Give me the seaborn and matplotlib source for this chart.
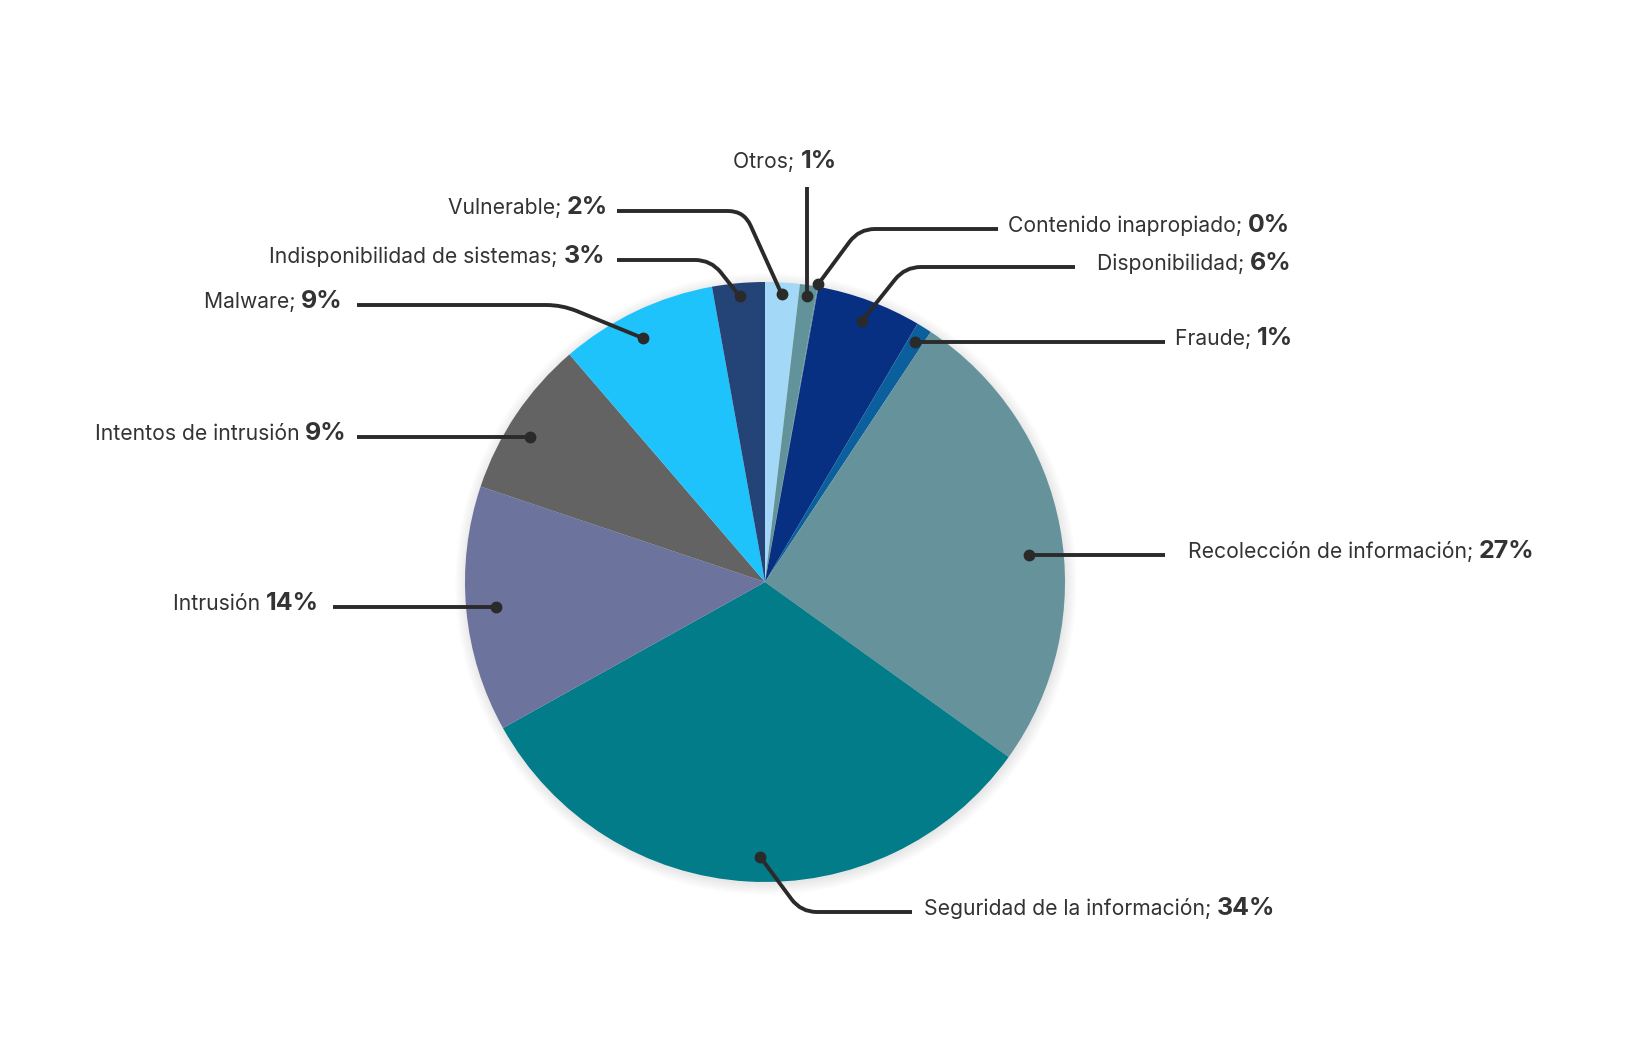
import numpy as np
import matplotlib
matplotlib.use('Agg')
import matplotlib.pyplot as plt
import seaborn as sns
from matplotlib.path import Path
from matplotlib.patches import PathPatch, Circle

# slices, clockwise from 12 o'clock
categories = ['Vulnerable', 'Otros', 'Contenido inapropiado', 'Disponibilidad', 'Fraude',
              'Recolección de información', 'Seguridad de la información', 'Intrusión',
              'Intentos de intrusión', 'Malware', 'Indisponibilidad de sistemas']
shares = [1.86, 0.94, 0.05, 5.64, 0.83, 25.6, 32.0, 13.25, 8.55, 8.47, 2.83]
pct_labels = ['2%', '1%', '0%', '6%', '1%', '27%', '34%', '14%', '9%', '9%', '3%']
separators = ['; ', '; ', '; ', '; ', '; ', '; ', '; ', ' ', ' ', '; ', '; ']
colors = ['#a3d9f6', '#62939b', '#5f8f97', '#072f82', '#0c5f9d', '#66929b',
          '#027c88', '#6c739d', '#636363', '#1fc3fc', '#244376']

W, H = 1633, 1039
CX, CY, R = 765, 582, 300          # pie centre / radius in image pixels

sns.set_theme(style='white')
plt.rcParams['font.family'] = ['Inter', 'DejaVu Sans']

fig = plt.figure(figsize=(W / 100, H / 100), dpi=100)
ax = fig.add_axes([0, 0, 1, 1])


def Y(y):
    # image row -> data y
    return H - y


# soft glow under the pie
for k in range(12):
    ax.add_patch(Circle((CX + 1, Y(CY) - 2), R + k, color='black', alpha=0.009, lw=0, zorder=0))

wedges, _ = ax.pie(shares, colors=colors, startangle=90, counterclock=False,
                   center=(CX, Y(CY)), radius=R, wedgeprops=dict(linewidth=0, zorder=1))

# leader layout: position inside wedge (frac of angle), radial fraction, path corners, text anchor
layout = {
    'Vulnerable': dict(f=0.5, r=0.96, pts=[(744, 211), (617, 211)], tx=608, ha='right'),
    'Otros': dict(f=0.5, r=0.965, pts=[(None, 187)], tx=785, ty=168, ha='center'),
    'Contenido inapropiado': dict(f=0.5, r=1.01, pts=[(859, 229), (998, 229)], tx=1008, ha='left'),
    'Disponibilidad': dict(f=0.5, r=0.93, pts=[(905, 267), (1075, 267)], tx=1097, ha='left'),
    'Fraude': dict(f=0.5, r=0.945, pts=[(1165, None)], tx=1175, ha='left'),
    'Recolección de información': dict(f=0.55, r=0.885, pts=[(1165, None)], tx=1188, ha='left'),
    'Seguridad de la información': dict(f=0.48, r=0.917, pts=[(801, 912), (912, 912)], tx=924, ha='left'),
    'Intrusión': dict(f=0.5, r=0.9, pts=[(333, None)], tx=319, ha='right'),
    'Intentos de intrusión': dict(f=0.43, r=0.92, pts=[(357, None)], tx=347, ha='right'),
    'Malware': dict(f=0.46, r=0.91, pts=[(562, 305), (357, 305)], tx=343, ha='right'),
    'Indisponibilidad de sistemas': dict(f=0.5, r=0.957, pts=[(711, 260), (617, 260)], tx=605, ha='right'),
}

line_col = '#2a2a2a'
text_col = '#333333'


def rounded(points, rad=16):
    verts, codes = [points[0]], [Path.MOVETO]
    for i in range(1, len(points) - 1):
        p0, p1, p2 = map(np.array, points[i - 1:i + 2])
        a = p1 + (p0 - p1) / np.linalg.norm(p0 - p1) * min(rad, np.linalg.norm(p0 - p1) / 2)
        b = p1 + (p2 - p1) / np.linalg.norm(p2 - p1) * min(rad, np.linalg.norm(p2 - p1) / 2)
        verts += [tuple(a), tuple(p1), tuple(b)]
        codes += [Path.LINETO, Path.CURVE3, Path.CURVE3]
    verts.append(points[-1])
    codes.append(Path.LINETO)
    return Path(verts, codes)


labels = []
for w, cat, pct, sep in zip(wedges, categories, pct_labels, separators):
    lay = layout[cat]
    ang = np.deg2rad(w.theta2 + (w.theta1 - w.theta2) * lay['f'])
    dx = CX + lay['r'] * R * np.cos(ang)
    dy = Y(CY) + lay['r'] * R * np.sin(ang)
    pts = [(dx, dy)]
    for px, py in lay['pts']:
        pts.append((dx if px is None else px, dy if py is None else Y(py)))
    ax.add_patch(PathPatch(rounded(pts), fill=False, ec=line_col, lw=2.8,
                           capstyle='butt', joinstyle='round', zorder=3))
    ax.plot(dx, dy, 'o', color=line_col, ms=7.5, zorder=4)
    ty = Y(lay['ty']) if 'ty' in lay else pts[-1][1] - 3
    name = ax.text(0, ty, cat + sep, fontsize=15.2, color=text_col, va='baseline', zorder=5)
    num = ax.text(0, ty, pct, fontsize=18, fontweight='bold', color=text_col, va='baseline', zorder=5)
    labels.append((lay, name, num))

ax.set_xlim(0, W)
ax.set_ylim(0, H)
ax.axis('off')

# place name + percentage side by side once their widths are known
fig.canvas.draw()
renderer = fig.canvas.get_renderer()
for lay, name, num in labels:
    wn = name.get_window_extent(renderer).width
    wp = num.get_window_extent(renderer).width
    x0 = lay['tx']
    if lay['ha'] == 'right':
        x0 = x0 - wn - wp
    elif lay['ha'] == 'center':
        x0 = x0 - (wn + wp) / 2
    name.set_x(x0)
    num.set_x(x0 + wn)

fig.savefig('out.png', dpi=100, facecolor='white')
